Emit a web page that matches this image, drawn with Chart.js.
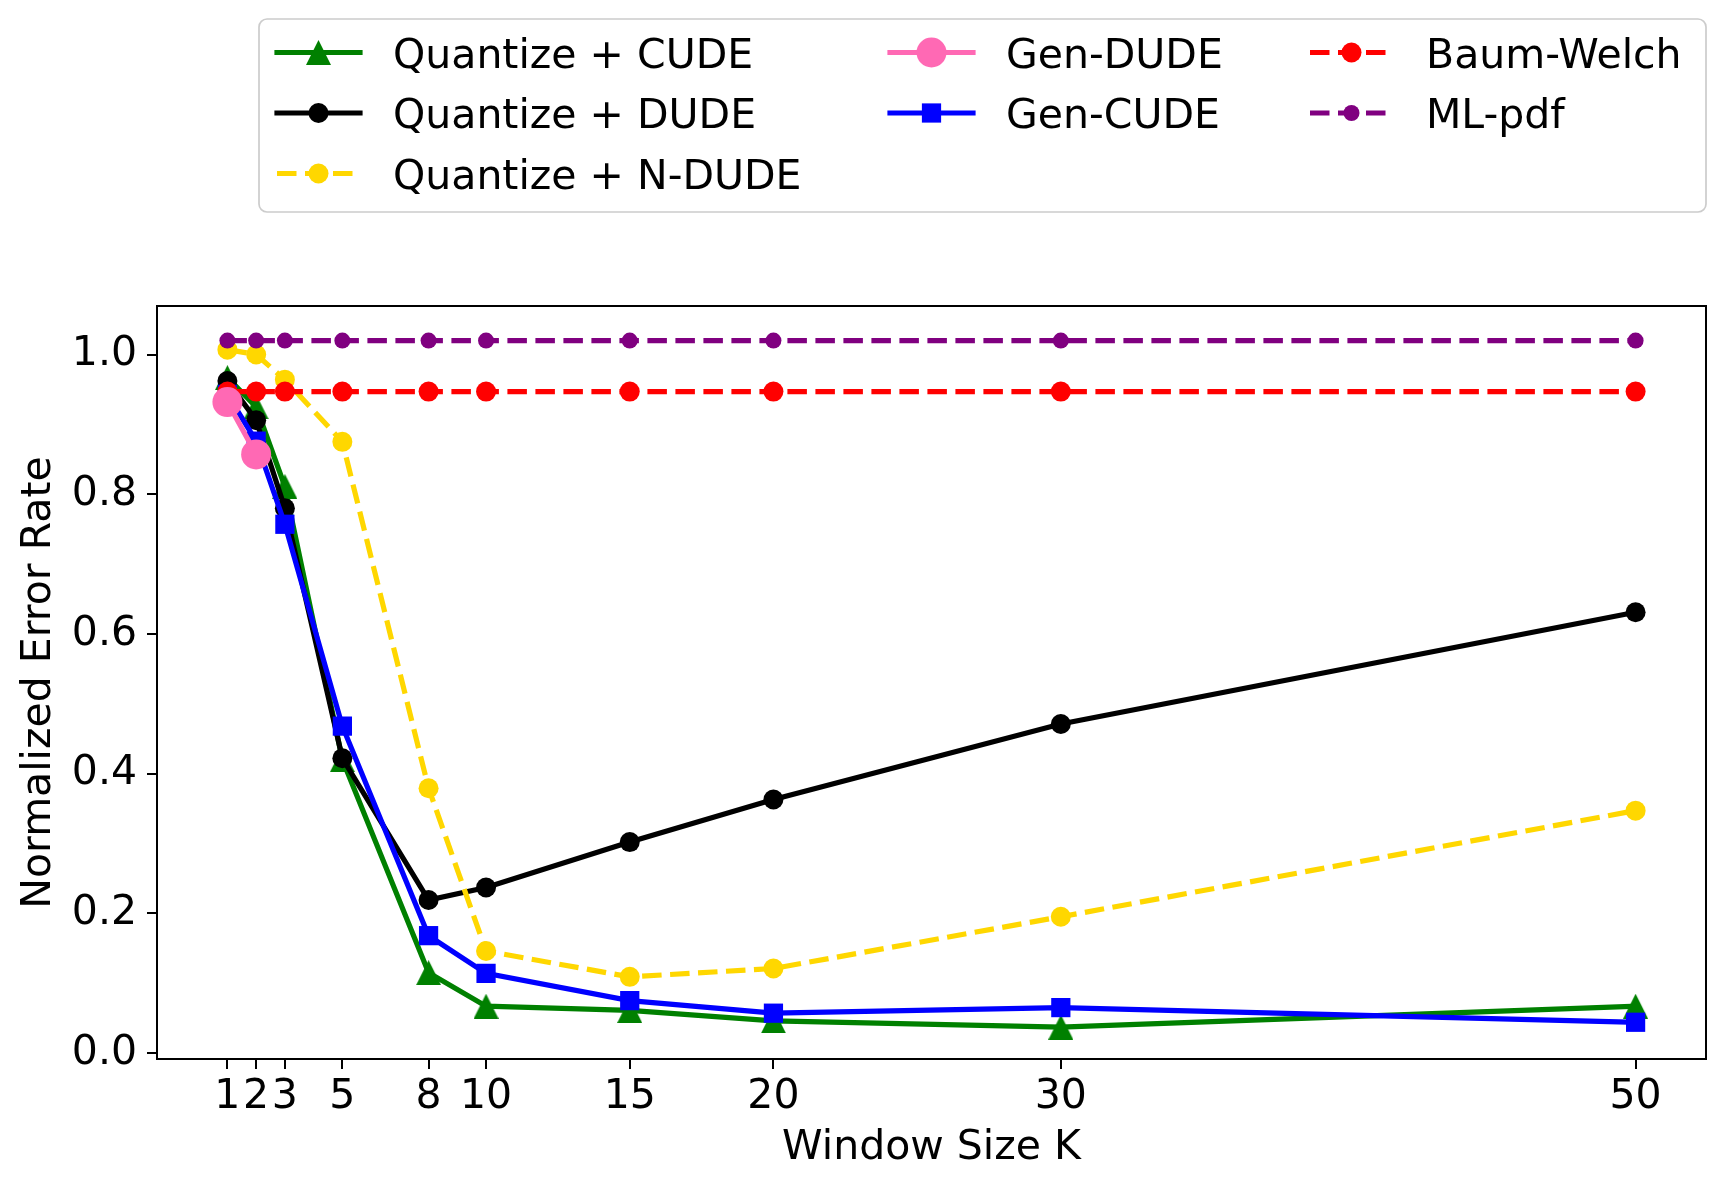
<!DOCTYPE html>
<html>
<head>
<meta charset="utf-8">
<title>Normalized Error Rate vs Window Size K</title>
<script src="https://cdn.jsdelivr.net/npm/chart.js@4.4.1/dist/chart.umd.min.js"></script>
<style>
  html, body { margin: 0; padding: 0; background: #fff; }
  #wrap { width: 1726px; height: 1191px; }
</style>
</head>
<body>
<div id="wrap"><canvas id="errChart"></canvas></div>
<script>
// window sizes K (x axis)
const windowSizes = [1, 2, 3, 5, 8, 10, 15, 20, 30, 50];

// normalized error rate, one value per window size
const quantizeCude  = [0.967, 0.925, 0.811, 0.420, 0.115, 0.067, 0.061, 0.046, 0.037, 0.067];
const quantizeDude  = [0.962, 0.906, 0.780, 0.422, 0.219, 0.237, 0.302, 0.363, 0.471, 0.631];
const quantizeNDude = [1.007, 1.000, 0.964, 0.875, 0.379, 0.146, 0.109, 0.121, 0.195, 0.347];
const genCude       = [0.943, 0.876, 0.757, 0.468, 0.168, 0.114, 0.075, 0.057, 0.065, 0.044];
const baumWelch     = [0.947, 0.947, 0.947, 0.947, 0.947, 0.947, 0.947, 0.947, 0.947, 0.947];
const mlPdf         = [1.020, 1.020, 1.020, 1.020, 1.020, 1.020, 1.020, 1.020, 1.020, 1.020];

// Gen-DUDE only has the two smallest windows
const genDudeSizes = [1, 2];
const genDude      = [0.932, 0.857];

const yTicks = [0.0, 0.2, 0.4, 0.6, 0.8, 1.0];
const xTicks = windowSizes;

const FONT = 'DejaVu Sans';
const DASH = [19.5, 8.5];

function toPoints(xs, ys) {
  return xs.map((x, i) => ({ x: x, y: ys[i] }));
}

// matplotlib style "^" marker
function makeTriangle(color, size) {
  const c = document.createElement('canvas');
  c.width = size;
  c.height = size;
  const g = c.getContext('2d');
  g.fillStyle = color;
  g.beginPath();
  g.moveTo(size / 2, 0);
  g.lineTo(size, size);
  g.lineTo(0, size);
  g.closePath();
  g.fill();
  return c;
}

function series(label, xs, ys, color, style, radius, dashed, order) {
  return {
    label: label,
    data: toPoints(xs, ys),
    borderColor: color,
    backgroundColor: color,
    borderWidth: 5.2,
    borderDash: dashed ? DASH : [],
    borderCapStyle: dashed ? 'butt' : 'square',
    pointStyle: style,
    pointRadius: radius,
    pointHoverRadius: radius,
    pointBackgroundColor: color,
    pointBorderColor: color,
    pointBorderWidth: 0,
    tension: 0,
    order: order
  };
}

const datasets = [
  series('Quantize + CUDE', windowSizes, quantizeCude, 'green', makeTriangle('green', 25), 12, false, 7),
  series('Quantize + DUDE', windowSizes, quantizeDude, 'black', 'circle', 10, false, 6),
  series('Quantize + N-DUDE', windowSizes, quantizeNDude, '#FFD700', 'circle', 10, true, 5),
  series('Gen-DUDE', genDudeSizes, genDude, '#FF69B4', 'circle', 15, false, 1),
  series('Gen-CUDE', windowSizes, genCude, 'blue', 'rect', 13.6, false, 4),
  series('Baum-Welch', windowSizes, baumWelch, 'red', 'circle', 10, true, 3),
  series('ML-pdf', windowSizes, mlPdf, 'purple', 'circle', 8, true, 2)
];

// legend is column-major like the original figure
const legendCols = [[0, 1, 2], [3, 4], [5, 6]];
const legendColX = [277, 890, 1310];
const legendBaseY = [67.5, 128, 188.5];

const framePlugin = {
  id: 'frameAndLegend',
  afterDraw(chart) {
    const ctx = chart.ctx;
    const a = chart.chartArea;
    ctx.save();
    ctx.strokeStyle = '#000';
    ctx.lineWidth = 2;
    ctx.strokeRect(a.left, a.top, a.right - a.left, a.bottom - a.top);

    // legend box
    const bx = 259, by = 19, bw = 1706 - 259, bh = 212 - 19, r = 8;
    ctx.beginPath();
    ctx.moveTo(bx + r, by);
    ctx.arcTo(bx + bw, by, bx + bw, by + bh, r);
    ctx.arcTo(bx + bw, by + bh, bx, by + bh, r);
    ctx.arcTo(bx, by + bh, bx, by, r);
    ctx.arcTo(bx, by, bx + bw, by, r);
    ctx.closePath();
    ctx.fillStyle = 'rgba(255,255,255,0.8)';
    ctx.fill();
    ctx.strokeStyle = '#cccccc';
    ctx.lineWidth = 1.7;
    ctx.stroke();

    legendCols.forEach((col, ci) => {
      col.forEach((di, ri) => {
        const ds = chart.data.datasets[di];
        const x0 = legendColX[ci];
        const base = legendBaseY[ri];
        const y = base - 15;
        ctx.beginPath();
        ctx.setLineDash(ds.borderDash);
        ctx.lineCap = ds.borderCapStyle;
        ctx.lineWidth = ds.borderWidth;
        ctx.strokeStyle = ds.borderColor;
        ctx.moveTo(x0, y);
        ctx.lineTo(x0 + 83, y);
        ctx.stroke();
        ctx.setLineDash([]);
        ctx.fillStyle = ds.pointBackgroundColor;
        Chart.helpers.drawPoint(ctx, {
          pointStyle: ds.pointStyle,
          radius: ds.pointRadius,
          rotation: 0,
          borderWidth: 0
        }, x0 + 41.5, y);

        ctx.fillStyle = '#000';
        ctx.font = '41px "' + FONT + '"';
        ctx.textAlign = 'left';
        ctx.textBaseline = 'alphabetic';
        ctx.fillText(ds.label, x0 + 116, base);
      });
    });
    ctx.restore();
  }
};

new Chart(document.getElementById('errChart'), {
  type: 'line',
  data: { datasets: datasets },
  options: {
    responsive: true,
    maintainAspectRatio: false,
    devicePixelRatio: 1,
    animation: false,
    layout: { padding: { top: 306, right: 20, left: 0, bottom: 0 } },
    plugins: {
      legend: { display: false },
      tooltip: { enabled: false }
    },
    scales: {
      x: {
        type: 'linear',
        min: -1.45,
        max: 52.45,
        afterFit(scale) { scale.height = 132; },
        afterBuildTicks(scale) { scale.ticks = xTicks.map(v => ({ value: v })); },
        grid: { drawOnChartArea: false, drawTicks: true, tickLength: 10, color: '#000', lineWidth: 2 },
        border: { display: false },
        ticks: {
          autoSkip: false,
          maxRotation: 0,
          padding: 4,
          color: '#000',
          font: { family: FONT, size: 41 },
          callback: v => String(v)
        },
        title: {
          display: true,
          text: 'Window Size K',
          color: '#000',
          font: { family: FONT, size: 41 },
          padding: { top: 18, bottom: 18 }
        }
      },
      y: {
        min: -0.0086,
        max: 1.0695,
        afterFit(scale) { scale.width = 157; },
        afterBuildTicks(scale) { scale.ticks = yTicks.map(v => ({ value: v })); },
        grid: { drawOnChartArea: false, drawTicks: true, tickLength: 10, color: '#000', lineWidth: 2 },
        border: { display: false },
        ticks: {
          padding: 10,
          color: '#000',
          font: { family: FONT, size: 41 },
          callback: v => v.toFixed(1)
        },
        title: {
          display: true,
          text: 'Normalized Error Rate',
          color: '#000',
          font: { family: FONT, size: 41 },
          padding: { top: 15, bottom: 0 }
        }
      }
    }
  },
  plugins: [framePlugin]
});
</script>
</body>
</html>
